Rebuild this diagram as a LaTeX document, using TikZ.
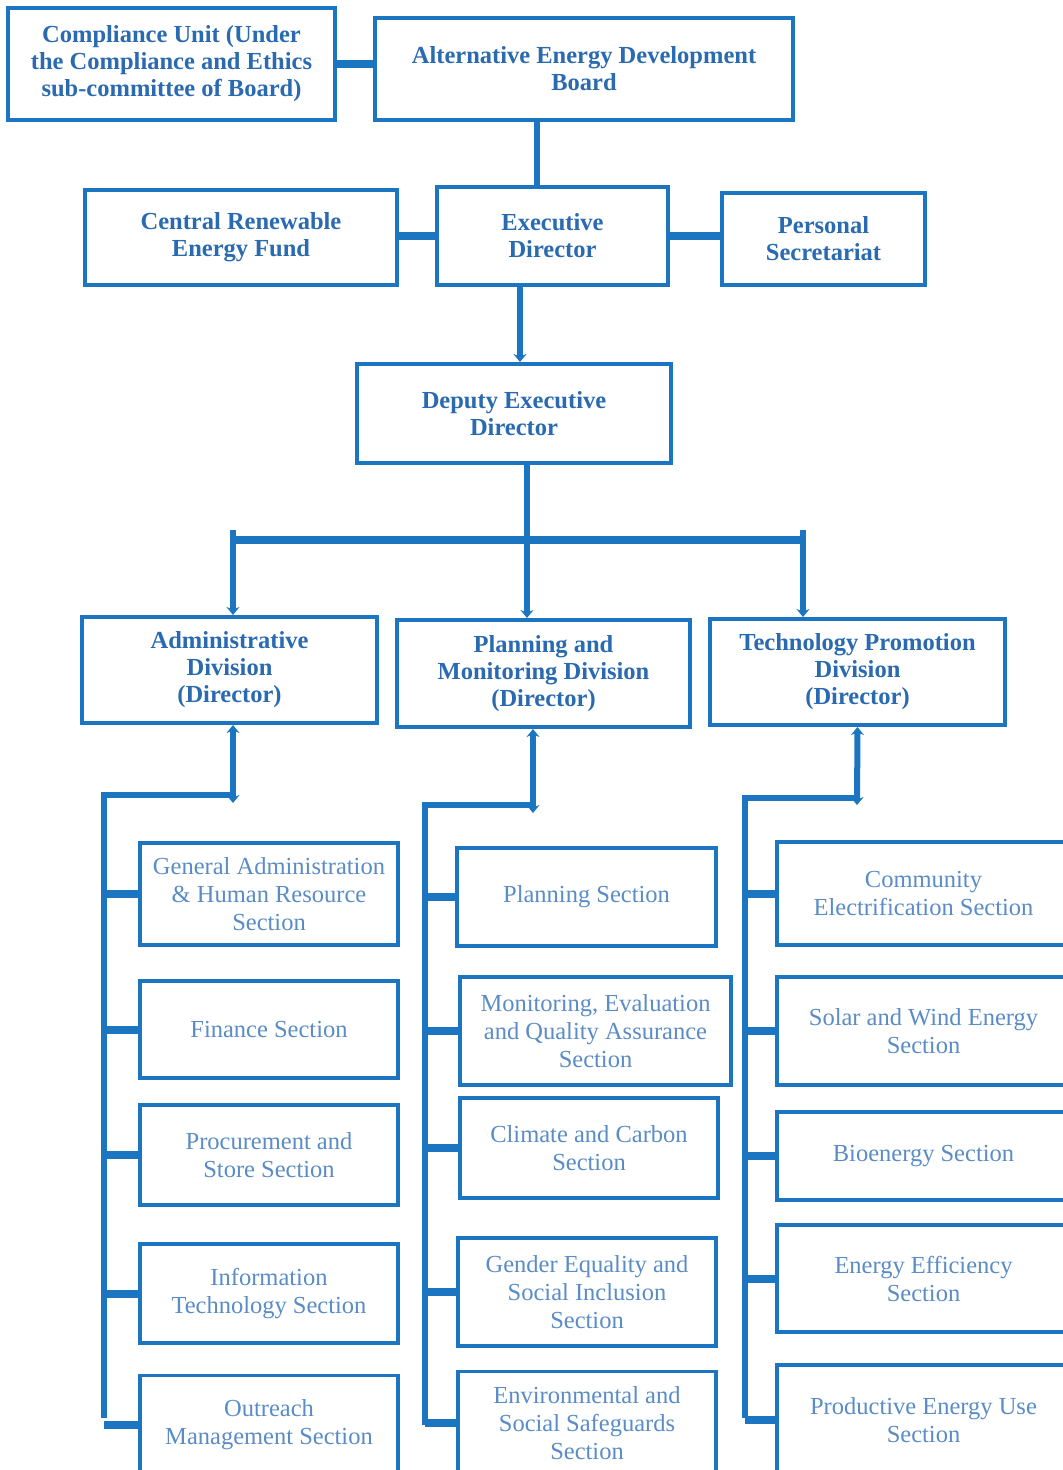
\documentclass[tikz,border=0pt]{standalone}
\usepackage{fontspec}
\setmainfont{Liberation Serif}
\usetikzlibrary{arrows.meta,positioning}
\definecolor{orgblue}{HTML}{1C75C0}
\definecolor{headtext}{HTML}{2A6AB0}
\definecolor{sectext}{HTML}{5A8CC6}
\newcommand{\HeadFont}{\fontsize{24.5}{27}\selectfont\bfseries}
\newcommand{\SecFont}{\fontsize{24.5}{28}\selectfont}

\begin{document}
\begin{tikzpicture}[x=1pt,y=-1pt,>={Stealth[length=8pt,width=13pt]}
        ,head/.style = {draw=orgblue,line width=4pt,rectangle,align=center,inner sep=0pt,text=headtext,font=\HeadFont}
        ,section/.style = {draw=orgblue,line width=3.5pt,rectangle,align=center,inner sep=0pt,text=sectext,font=\SecFont}
        ,link/.style = {draw=orgblue,line width=6pt}
        ,bar/.style = {draw=orgblue,line width=8pt}
        ,stub/.style = {draw=orgblue,line width=8pt}
      ]
      \useasboundingbox[fill=white] (0,0) rectangle (1063,1470);

      % top of the chart
      \node[head,minimum width=327pt,minimum height=112pt](comp) at (171.5,64) {Compliance Unit (Under\\the Compliance and Ethics\\sub-committee of Board)};
      \node[head,minimum width=418pt,minimum height=102pt](board) at (584,69) {Alternative Energy Development\\Board};
      \node[head,minimum width=312pt,minimum height=95pt](fund) at (241,237.5) {Central Renewable\\Energy Fund};
      \node[head,minimum width=231pt,minimum height=98pt](exec) at (552.5,236) {Executive\\Director};
      \node[head,minimum width=203pt,minimum height=92pt](pers) at (823.5,239) {Personal\\Secretariat};
      \node[head,minimum width=314pt,minimum height=99pt](deputy) at (514,413.5) {Deputy Executive\\Director};

      % divisions
      \node[head,minimum width=295pt,minimum height=106pt](admin) at (229.5,670) {Administrative\\Division\\(Director)};
      \node[head,minimum width=293pt,minimum height=107pt](plan) at (543.5,673.5) {Planning and\\Monitoring Division\\(Director)};
      \node[head,minimum width=295pt,minimum height=106pt](tech) at (857.5,672) {Technology Promotion\\Division\\(Director)};

      % administrative sections
      \node[section,minimum width=258pt,minimum height=102pt](genadm) at (269,894) {General Administration\\\& Human Resource\\Section};
      \node[section,minimum width=258pt,minimum height=97pt](finance) at (269,1029.5) {Finance Section};
      \node[section,minimum width=258pt,minimum height=100pt](procure) at (269,1155) {Procurement and\\Store Section};
      \node[section,minimum width=258pt,minimum height=99pt](infotech) at (269,1293.5) {Information\\Technology Section};
      \node[section,minimum width=258pt,minimum height=99pt](outreach) at (269,1425) {Outreach\\Management Section};

      % planning sections
      \node[section,minimum width=259pt,minimum height=98pt](plansec) at (586.5,897) {Planning Section};
      \node[section,minimum width=271pt,minimum height=108pt](monit) at (595.5,1031) {Monitoring, Evaluation\\and Quality Assurance\\Section};
      \node[section,minimum width=258pt,minimum height=100pt](climate) at (589,1148) {Climate and Carbon\\Section};
      \node[section,minimum width=258pt,minimum height=108pt](gender) at (587,1292) {Gender Equality and\\Social Inclusion\\Section};
      \node[section,minimum width=258pt,minimum height=103pt](environ) at (587,1423) {Environmental and\\Social Safeguards\\Section};

      % technology sections
      \node[section,minimum width=293pt,minimum height=103pt](commun) at (923.5,893.5) {Community\\Electrification Section};
      \node[section,minimum width=293pt,minimum height=108pt](solar) at (923.5,1031) {Solar and Wind Energy\\Section};
      \node[section,minimum width=293pt,minimum height=88pt](bio) at (923.5,1156) {Bioenergy Section};
      \node[section,minimum width=293pt,minimum height=107pt](effic) at (923.5,1278.5) {Energy Efficiency\\Section};
      \node[section,minimum width=293pt,minimum height=110pt](product) at (923.5,1420) {Productive Energy Use\\Section};

      % upper links
      \draw[stub] (comp.east) -- (comp.east -| board.west);
      \draw[link] ([xshift=-15.5pt]exec.north) -- ([xshift=-15.5pt]exec.north |- board.south);
      \draw[stub] (exec.west) -- (exec.west -| fund.east);
      \draw[stub] (exec.east) -- (exec.east -| pers.west);
      \draw[link,->] ([xshift=-32.5pt]exec.south) -- ([xshift=-32.5pt]exec.south |- deputy.north);

      % deputy to divisions
      \coordinate (bl) at (233,530);
      \coordinate (bm) at (527,540);
      \coordinate (br) at (803,530);
      \draw[link] ([xshift=13pt]deputy.south) -- (bm);
      \draw[bar] (233,540) -- (803,540);
      \draw[link,->] (bl) -- (bl |- admin.north);
      \draw[link,->] (bm) -- (bm |- plan.north);
      \draw[link,->] (br) -- (br |- tech.north);

      % division spines
      \coordinate (adtip) at (233,803);
      \coordinate (adspine) at (104,1418);
      \draw[link,<->] ([xshift=3.5pt]admin.south) -- (adtip);
      \draw[link] (233,795) -| (adspine);

      \coordinate (pltip) at (533,813);
      \coordinate (plspine) at (425,1425);
      \draw[link,<->] ([xshift=-10.5pt]plan.south) -- (pltip);
      \draw[link] (533,805) -| (plspine);

      \coordinate (tetip) at (857,805);
      \coordinate (tespine) at (745,1418);
      \draw[link,<->] (tech.south) -- (tetip);
      \draw[link] (857,798) -| (tespine);

      % section stubs
      \foreach \sec in {genadm,finance,procure,infotech,outreach}
        \draw[stub] (\sec.west -| adspine) -- (\sec.west);
      \foreach \sec in {plansec,monit,climate,gender,environ}
        \draw[stub] (\sec.west -| plspine) -- (\sec.west);
      \foreach \sec in {commun,solar,bio,effic,product}
        \draw[stub] (\sec.west -| tespine) -- (\sec.west);
    \end{tikzpicture}
\end{document}
